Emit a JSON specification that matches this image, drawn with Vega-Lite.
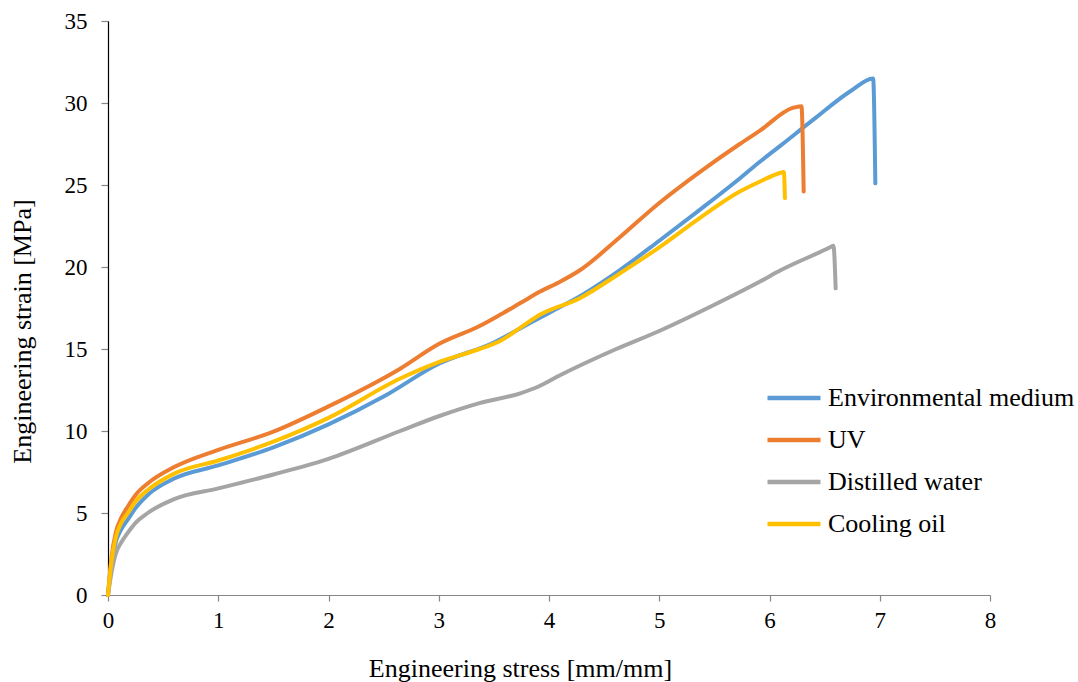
{
  "$schema": "https://vega.github.io/schema/vega-lite/v6.json",
  "autosize": {"type": "none"},
  "width": 882,
  "height": 574,
  "padding": {"left": 108, "top": 21, "right": 88, "bottom": 87},
  "background": "white",
  "config": {"view": {"stroke": null}, "font": "Liberation Serif"},
  "data": {"values": [
    {"series": "Environmental medium", "i": 0, "x": 0, "y": 0},
    {"series": "Environmental medium", "i": 1, "x": 0.03, "y": 1.8},
    {"series": "Environmental medium", "i": 2, "x": 0.07, "y": 3.2},
    {"series": "Environmental medium", "i": 3, "x": 0.12, "y": 4.0},
    {"series": "Environmental medium", "i": 4, "x": 0.18, "y": 4.6},
    {"series": "Environmental medium", "i": 5, "x": 0.25, "y": 5.3},
    {"series": "Environmental medium", "i": 6, "x": 0.36, "y": 6.1},
    {"series": "Environmental medium", "i": 7, "x": 0.6, "y": 7.1},
    {"series": "Environmental medium", "i": 8, "x": 1.0, "y": 7.9},
    {"series": "Environmental medium", "i": 9, "x": 1.5, "y": 9.0},
    {"series": "Environmental medium", "i": 10, "x": 2.0, "y": 10.4},
    {"series": "Environmental medium", "i": 11, "x": 2.5, "y": 12.1},
    {"series": "Environmental medium", "i": 12, "x": 3.0, "y": 14.1},
    {"series": "Environmental medium", "i": 13, "x": 3.5, "y": 15.4},
    {"series": "Environmental medium", "i": 14, "x": 3.75, "y": 16.3},
    {"series": "Environmental medium", "i": 15, "x": 4.0, "y": 17.2},
    {"series": "Environmental medium", "i": 16, "x": 4.3, "y": 18.3},
    {"series": "Environmental medium", "i": 17, "x": 4.64, "y": 19.8},
    {"series": "Environmental medium", "i": 18, "x": 5.0, "y": 21.6},
    {"series": "Environmental medium", "i": 19, "x": 5.37, "y": 23.5},
    {"series": "Environmental medium", "i": 20, "x": 5.73, "y": 25.4},
    {"series": "Environmental medium", "i": 21, "x": 5.91, "y": 26.4},
    {"series": "Environmental medium", "i": 22, "x": 6.1, "y": 27.4},
    {"series": "Environmental medium", "i": 23, "x": 6.4, "y": 29.0},
    {"series": "Environmental medium", "i": 24, "x": 6.73, "y": 30.7},
    {"series": "Environmental medium", "i": 25, "x": 6.94, "y": 31.5},
    {"series": "Environmental medium", "i": 26, "x": 6.96, "y": 25.1},
    {"series": "UV", "i": 0, "x": 0, "y": 0},
    {"series": "UV", "i": 1, "x": 0.03, "y": 2.2},
    {"series": "UV", "i": 2, "x": 0.07, "y": 3.8},
    {"series": "UV", "i": 3, "x": 0.12, "y": 4.7},
    {"series": "UV", "i": 4, "x": 0.18, "y": 5.4},
    {"series": "UV", "i": 5, "x": 0.25, "y": 6.1},
    {"series": "UV", "i": 6, "x": 0.36, "y": 6.8},
    {"series": "UV", "i": 7, "x": 0.6, "y": 7.8},
    {"series": "UV", "i": 8, "x": 1.0, "y": 8.85},
    {"series": "UV", "i": 9, "x": 1.5, "y": 9.96},
    {"series": "UV", "i": 10, "x": 2.0, "y": 11.5},
    {"series": "UV", "i": 11, "x": 2.65, "y": 13.8},
    {"series": "UV", "i": 12, "x": 3.0, "y": 15.3},
    {"series": "UV", "i": 13, "x": 3.37, "y": 16.4},
    {"series": "UV", "i": 14, "x": 3.56, "y": 17.1},
    {"series": "UV", "i": 15, "x": 3.74, "y": 17.8},
    {"series": "UV", "i": 16, "x": 3.92, "y": 18.5},
    {"series": "UV", "i": 17, "x": 4.1, "y": 19.1},
    {"series": "UV", "i": 18, "x": 4.28, "y": 19.8},
    {"series": "UV", "i": 19, "x": 4.64, "y": 21.8},
    {"series": "UV", "i": 20, "x": 5.0, "y": 23.9},
    {"series": "UV", "i": 21, "x": 5.37, "y": 25.8},
    {"series": "UV", "i": 22, "x": 5.73, "y": 27.5},
    {"series": "UV", "i": 23, "x": 5.91, "y": 28.3},
    {"series": "UV", "i": 24, "x": 6.21, "y": 29.7},
    {"series": "UV", "i": 25, "x": 6.29, "y": 29.8},
    {"series": "UV", "i": 26, "x": 6.31, "y": 24.6},
    {"series": "Distilled water", "i": 0, "x": 0, "y": 0},
    {"series": "Distilled water", "i": 1, "x": 0.03, "y": 1.3},
    {"series": "Distilled water", "i": 2, "x": 0.07, "y": 2.5},
    {"series": "Distilled water", "i": 3, "x": 0.12, "y": 3.2},
    {"series": "Distilled water", "i": 4, "x": 0.18, "y": 3.8},
    {"series": "Distilled water", "i": 5, "x": 0.25, "y": 4.4},
    {"series": "Distilled water", "i": 6, "x": 0.36, "y": 5.0},
    {"series": "Distilled water", "i": 7, "x": 0.6, "y": 5.85},
    {"series": "Distilled water", "i": 8, "x": 1.0, "y": 6.5},
    {"series": "Distilled water", "i": 9, "x": 1.5, "y": 7.35},
    {"series": "Distilled water", "i": 10, "x": 2.0, "y": 8.3},
    {"series": "Distilled water", "i": 11, "x": 2.65, "y": 10.0},
    {"series": "Distilled water", "i": 12, "x": 3.0, "y": 10.9},
    {"series": "Distilled water", "i": 13, "x": 3.37, "y": 11.7},
    {"series": "Distilled water", "i": 14, "x": 3.74, "y": 12.3},
    {"series": "Distilled water", "i": 15, "x": 3.9, "y": 12.7},
    {"series": "Distilled water", "i": 16, "x": 4.1, "y": 13.4},
    {"series": "Distilled water", "i": 17, "x": 4.61, "y": 15.0},
    {"series": "Distilled water", "i": 18, "x": 5.0, "y": 16.1},
    {"series": "Distilled water", "i": 19, "x": 5.5, "y": 17.7},
    {"series": "Distilled water", "i": 20, "x": 5.91, "y": 19.1},
    {"series": "Distilled water", "i": 21, "x": 6.1, "y": 19.8},
    {"series": "Distilled water", "i": 22, "x": 6.55, "y": 21.2},
    {"series": "Distilled water", "i": 23, "x": 6.58, "y": 21.3},
    {"series": "Distilled water", "i": 24, "x": 6.6, "y": 18.7},
    {"series": "Cooling oil", "i": 0, "x": 0, "y": 0},
    {"series": "Cooling oil", "i": 1, "x": 0.03, "y": 2.0},
    {"series": "Cooling oil", "i": 2, "x": 0.07, "y": 3.5},
    {"series": "Cooling oil", "i": 3, "x": 0.12, "y": 4.4},
    {"series": "Cooling oil", "i": 4, "x": 0.18, "y": 5.0},
    {"series": "Cooling oil", "i": 5, "x": 0.25, "y": 5.7},
    {"series": "Cooling oil", "i": 6, "x": 0.36, "y": 6.4},
    {"series": "Cooling oil", "i": 7, "x": 0.6, "y": 7.4},
    {"series": "Cooling oil", "i": 8, "x": 1.0, "y": 8.2},
    {"series": "Cooling oil", "i": 9, "x": 1.5, "y": 9.35},
    {"series": "Cooling oil", "i": 10, "x": 2.0, "y": 10.8},
    {"series": "Cooling oil", "i": 11, "x": 2.65, "y": 13.2},
    {"series": "Cooling oil", "i": 12, "x": 3.0, "y": 14.2},
    {"series": "Cooling oil", "i": 13, "x": 3.37, "y": 15.0},
    {"series": "Cooling oil", "i": 14, "x": 3.56, "y": 15.5},
    {"series": "Cooling oil", "i": 15, "x": 3.74, "y": 16.3},
    {"series": "Cooling oil", "i": 16, "x": 3.92, "y": 17.1},
    {"series": "Cooling oil", "i": 17, "x": 4.28, "y": 18.1},
    {"series": "Cooling oil", "i": 18, "x": 4.64, "y": 19.6},
    {"series": "Cooling oil", "i": 19, "x": 5.0, "y": 21.2},
    {"series": "Cooling oil", "i": 20, "x": 5.37, "y": 23.0},
    {"series": "Cooling oil", "i": 21, "x": 5.73, "y": 24.6},
    {"series": "Cooling oil", "i": 22, "x": 5.91, "y": 25.2},
    {"series": "Cooling oil", "i": 23, "x": 6.1, "y": 25.75},
    {"series": "Cooling oil", "i": 24, "x": 6.13, "y": 25.8},
    {"series": "Cooling oil", "i": 25, "x": 6.14, "y": 24.2}
  ]},
  "mark": {"type": "line", "strokeWidth": 4, "interpolate": "monotone", "strokeCap": "round", "strokeJoin": "round"},
  "encoding": {
    "x": {
      "field": "x", "type": "quantitative",
      "scale": {"domain": [0, 8], "nice": false},
      "axis": {
        "title": "Engineering stress [mm/mm]",
        "values": [0, 1, 2, 3, 4, 5, 6, 7, 8],
        "grid": false,
        "domainColor": "#868686", "domainWidth": 1.2,
        "tickColor": "#868686", "tickSize": 6, "tickWidth": 1.2,
        "labelFont": "Liberation Serif", "labelFontSize": 23, "labelColor": "#000000",
        "labelPadding": 8, "labelFlush": false,
        "titleFont": "Liberation Serif", "titleFontSize": 26, "titleFontWeight": "normal", "titleColor": "#000000",
        "titleX": 412, "titleY": 81, "titleBaseline": "alphabetic", "titleAlign": "center", "titleAnchor": null
      }
    },
    "y": {
      "field": "y", "type": "quantitative",
      "scale": {"domain": [0, 35], "nice": false},
      "axis": {
        "title": "Engineering strain [MPa]",
        "values": [0, 5, 10, 15, 20, 25, 30, 35],
        "grid": false,
        "domainColor": "#000000", "domainWidth": 1.2,
        "tickColor": "#868686", "tickSize": 7, "tickWidth": 1.2,
        "labelFont": "Liberation Serif", "labelFontSize": 23, "labelColor": "#000000",
        "labelPadding": 14, "labelFlush": false,
        "titleFont": "Liberation Serif", "titleFontSize": 26, "titleFontWeight": "normal", "titleColor": "#000000",
        "titleX": -78, "titleY": 310, "titleBaseline": "alphabetic", "titleAlign": "center", "titleAngle": -90, "titleAnchor": null
      }
    },
    "color": {
      "field": "series", "type": "nominal",
      "scale": {
        "domain": ["Environmental medium", "UV", "Distilled water", "Cooling oil"],
        "range": ["#5B9BD5", "#ED7D31", "#A5A5A5", "#FFC000"]
      },
      "legend": {
        "title": null,
        "orient": "none",
        "legendX": 657,
        "legendY": 364,
        "padding": 0,
        "symbolType": "stroke",
        "symbolSize": 2809,
        "symbolStrokeWidth": 4.5,
        "clipHeight": 26,
        "rowPadding": 16,
        "labelOffset": 5,
        "labelFont": "Liberation Serif",
        "labelFontSize": 26,
        "labelColor": "#000000",
        "labelLimit": 400
      }
    },
    "order": {"field": "i", "type": "quantitative"}
  }
}
